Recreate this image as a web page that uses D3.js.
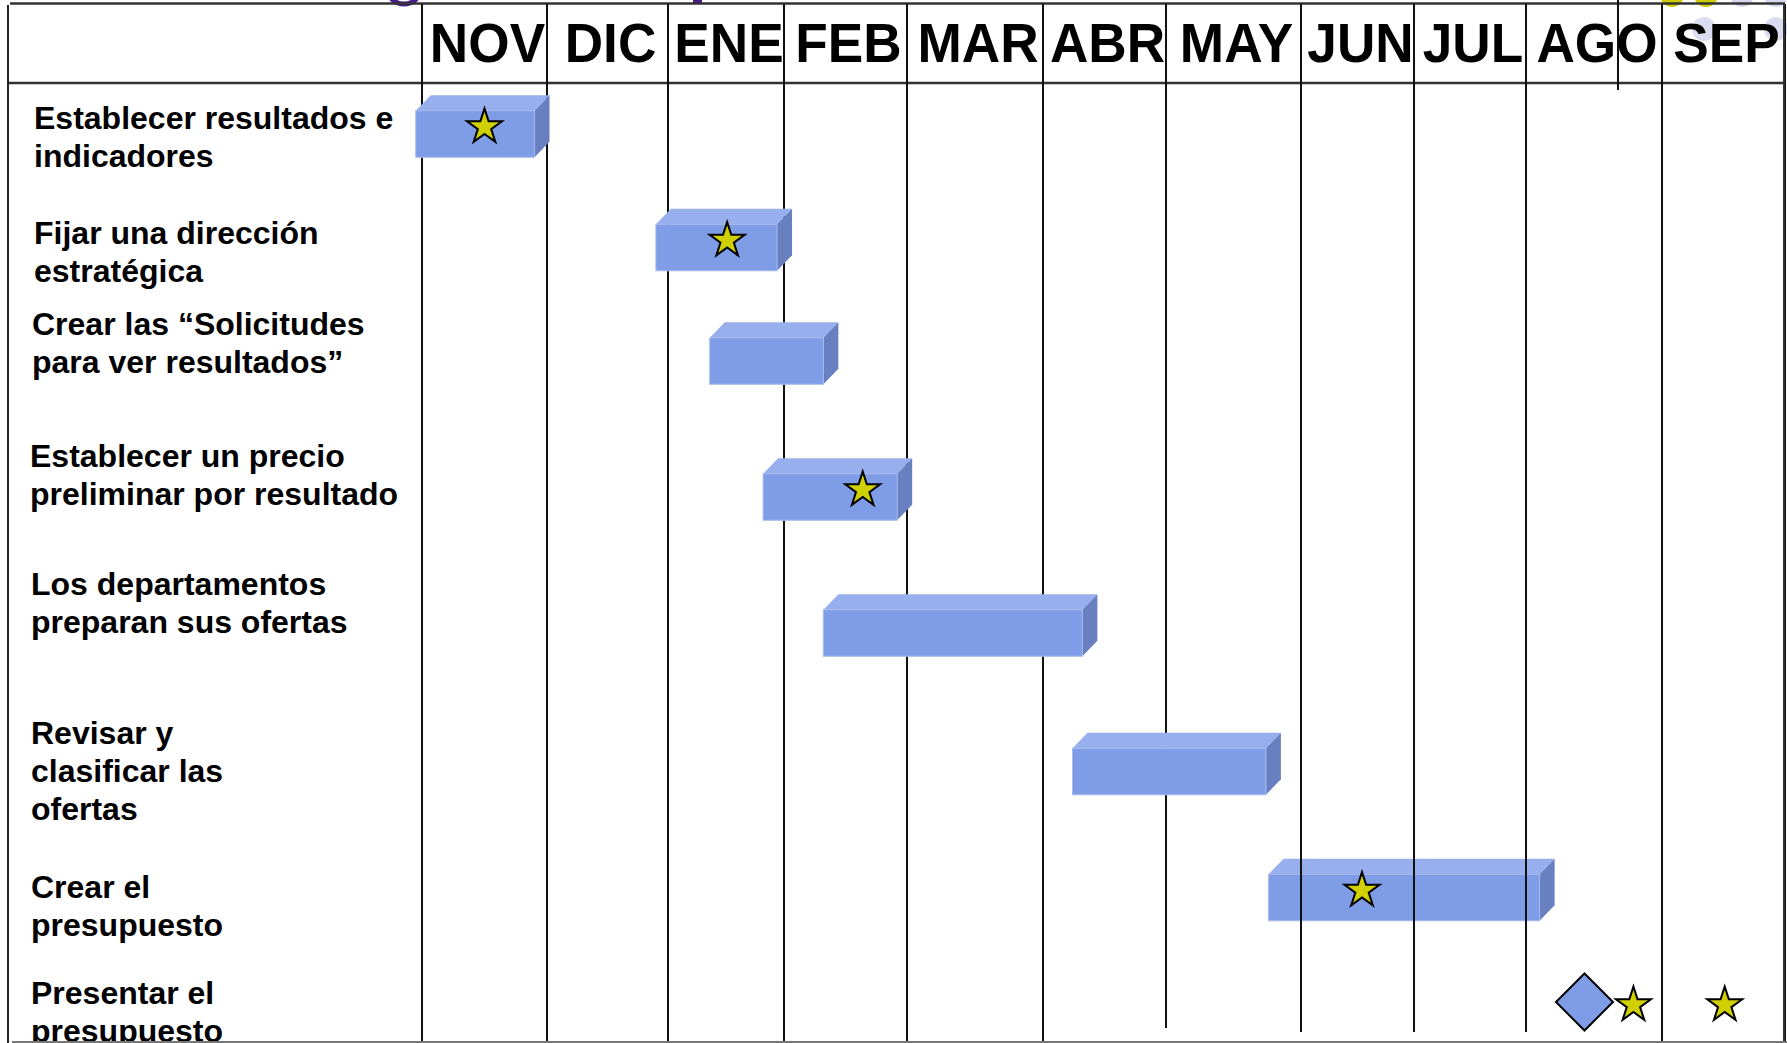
<!DOCTYPE html>
<html>
<head>
<meta charset="utf-8">
<script src="https://cdn.jsdelivr.net/npm/d3@7"></script>
<style>
  html, body { margin: 0; padding: 0; background: #fff; }
  svg { display: block; }
  text { font-family: "Liberation Sans", Arial, sans-serif; font-weight: bold; fill: #000; }
</style>
</head>
<body>
<div id="chart"></div>
<script>
const months = ["NOV", "DIC", "ENE", "FEB", "MAR", "ABR", "MAY", "JUN", "JUL", "AGO", "SEP"];

const tasks = [
  ["Establecer resultados e", "indicadores"],
  ["Fijar una dirección", "estratégica"],
  ["Crear las “Solicitudes", "para ver resultados”"],
  ["Establecer un precio", "preliminar por resultado"],
  ["Los departamentos", "preparan sus ofertas"],
  ["Revisar y", "clasificar las", "ofertas"],
  ["Crear el", "presupuesto"],
  ["Presentar el", "presupuesto"]
];

// start / end of each bar in months from the start of NOV
const barStart = [-0.05, 1.9, 2.36, 2.82, 3.32, 5.24, 6.76, null];
const barEnd = [0.9, 2.94, 3.32, 3.92, 5.32, 6.74, 9.1, null];

// milestones
const starTask = [0, 1, 3, 6, 7, 7];
const starAt = [0.5, 2.51, 3.64, 7.54, 9.79, 10.51];
const diamondTask = [7];
const diamondAt = [9.43];

// layout
const width = 1787, height = 1043;
const colEdges = [422, 547, 668, 784, 907, 1043, 1166, 1301, 1414, 1526, 1662, 1785];
const rowY = [134, 247.5, 361, 497, 633, 771.5, 897.5, 1012];
const labelY = [129, 244, 335, 467, 595, 744, 898, 1004];
const labelX = [34, 34, 32, 30, 31, 31, 31, 31];
const barH = 46.5, depthX = 15, depthY = 15.5;

const x = d3.scaleLinear().domain(d3.range(colEdges.length)).range(colEdges);
const y = d3.scaleLinear().domain(d3.range(rowY.length)).range(rowY);
const ly = d3.scaleLinear().domain(d3.range(labelY.length)).range(labelY);

const svg = d3.select("#chart")
  .append("svg")
  .attr("width", width)
  .attr("height", height);

// bits of the slide title and logo that are cut off at the top
svg.append("ellipse").attr("cx", 404).attr("cy", -6).attr("rx", 14).attr("ry", 10)
  .style("fill", "none").style("stroke", "#4a1a8a").style("stroke-width", 5);
svg.append("rect").attr("x", 693).attr("y", 0).attr("width", 9).attr("height", 4).style("fill", "#4a1a8a");
const logo = [
  { cx: 1672, cy: -5, c: "#cccc00" }, { cx: 1706, cy: -5, c: "#cccc00" },
  { cx: 1742, cy: -5, c: "#d8d8ee" }, { cx: 1776, cy: -5, c: "#d8d8ee" },
  { cx: 1704, cy: 29, c: "#dcdcf0" }, { cx: 1776, cy: 29, c: "#dcdcf0" }
];
svg.append("g").selectAll("circle").data(logo).enter().append("circle")
  .attr("cx", d => d.cx).attr("cy", d => d.cy).attr("r", 12).style("fill", d => d.c);

// frame
svg.append("line").attr("x1", 10).attr("x2", 1785).attr("y1", 3.5).attr("y2", 3.5)
  .style("stroke", "#333").style("stroke-width", 2.5);
svg.append("line").attr("x1", 8).attr("x2", 1785).attr("y1", 83).attr("y2", 83)
  .style("stroke", "#333").style("stroke-width", 2.5);
svg.append("line").attr("x1", 8).attr("x2", 8).attr("y1", 5).attr("y2", height)
  .style("stroke", "#222").style("stroke-width", 2);
svg.append("line").attr("x1", 1618).attr("x2", 1618).attr("y1", 0).attr("y2", 90)
  .style("stroke", "#111").style("stroke-width", 2);

const overBars = i => i >= 7 && i <= 9;
const lineEnd = i => i === 6 ? 1028 : (i >= 7 && i <= 9 ? 1032 : height);

// month grid lines (some are drawn over the bars later)
svg.append("g").selectAll("line")
  .data(d3.range(colEdges.length).filter(i => !overBars(i)))
  .enter().append("line")
  .attr("x1", d => x(d)).attr("x2", d => x(d))
  .attr("y1", 4).attr("y2", d => lineEnd(d))
  .style("stroke", "#111").style("stroke-width", 2);

// month header
svg.append("g").selectAll("text")
  .data(months)
  .enter().append("text")
  .attr("transform", (d, i) => `translate(${(x(i) + x(i + 1)) / 2 + 3},62) scale(0.95,1)`)
  .attr("text-anchor", "middle")
  .style("font-size", "56px")
  .text(d => d);

// task labels
const label = svg.append("g").selectAll("text")
  .data(tasks)
  .enter().append("text")
  .attr("y", (d, i) => ly(i))
  .style("font-size", "32px");
label.selectAll("tspan")
  .data((d, i) => d.map(line => ({ line, i })))
  .enter().append("tspan")
  .attr("x", d => labelX[d.i])
  .attr("dy", (d, j) => j === 0 ? 0 : 38)
  .text(d => d.line);

// 3d bars
const bars = tasks.map((t, i) => ({ i, s: barStart[i], e: barEnd[i] })).filter(d => d.s != null);
const bar = svg.append("g").selectAll("g")
  .data(bars)
  .enter().append("g");

bar.append("polygon")
  .attr("points", d => {
    const x0 = x(d.s), x1 = x(d.e), yt = y(d.i) - barH / 2;
    return [[x0, yt], [x0 + depthX, yt - depthY], [x1 + depthX, yt - depthY], [x1, yt]].join(" ");
  })
  .style("fill", "#97afec");

bar.append("polygon")
  .attr("points", d => {
    const x1 = x(d.e), yt = y(d.i) - barH / 2, yb = y(d.i) + barH / 2;
    return [[x1, yt], [x1 + depthX, yt - depthY], [x1 + depthX, yb - depthY], [x1, yb]].join(" ");
  })
  .style("fill", "#6880c0");

bar.append("rect")
  .attr("x", d => x(d.s))
  .attr("y", d => y(d.i) - barH / 2)
  .attr("width", d => x(d.e) - x(d.s))
  .attr("height", barH)
  .style("fill", "#7f9de6")
  .style("stroke", "#a6b9ee")
  .style("stroke-width", 1);

// these grid lines lie on top of the bars
svg.append("g").selectAll("line")
  .data(d3.range(colEdges.length).filter(overBars))
  .enter().append("line")
  .attr("x1", d => x(d)).attr("x2", d => x(d))
  .attr("y1", 4).attr("y2", d => lineEnd(d))
  .style("stroke", "#111").style("stroke-width", 2);

// diamond milestone
svg.append("g").selectAll("path")
  .data(diamondAt.map((v, k) => ({ t: diamondTask[k], v })))
  .enter().append("path")
  .attr("d", "M0,-28.5L28.5,0L0,28.5L-28.5,0Z")
  .attr("transform", d => `translate(${x(d.v)},${y(d.t) - 10})`)
  .style("fill", "#7f9de6")
  .style("stroke", "#000")
  .style("stroke-width", 2);

// star milestones
const star = d3.symbol().type(d3.symbolStar).size(380);
svg.append("g").selectAll("path")
  .data(starAt.map((v, k) => ({ t: starTask[k], v })))
  .enter().append("path")
  .attr("d", star)
  .attr("transform", d => `translate(${x(d.v)},${y(d.t) - 7})`)
  .style("fill", "#d0d000")
  .style("stroke", "#000")
  .style("stroke-width", 2)
  .style("stroke-linejoin", "miter");

// right and bottom edge
svg.append("line").attr("x1", 1784).attr("x2", 1784).attr("y1", 4).attr("y2", height)
  .style("stroke", "#333").style("stroke-width", 2);
svg.append("line").attr("x1", 12).attr("x2", width).attr("y1", 1042).attr("y2", 1042)
  .style("stroke", "#777").style("stroke-width", 2);
</script>
</body>
</html>
